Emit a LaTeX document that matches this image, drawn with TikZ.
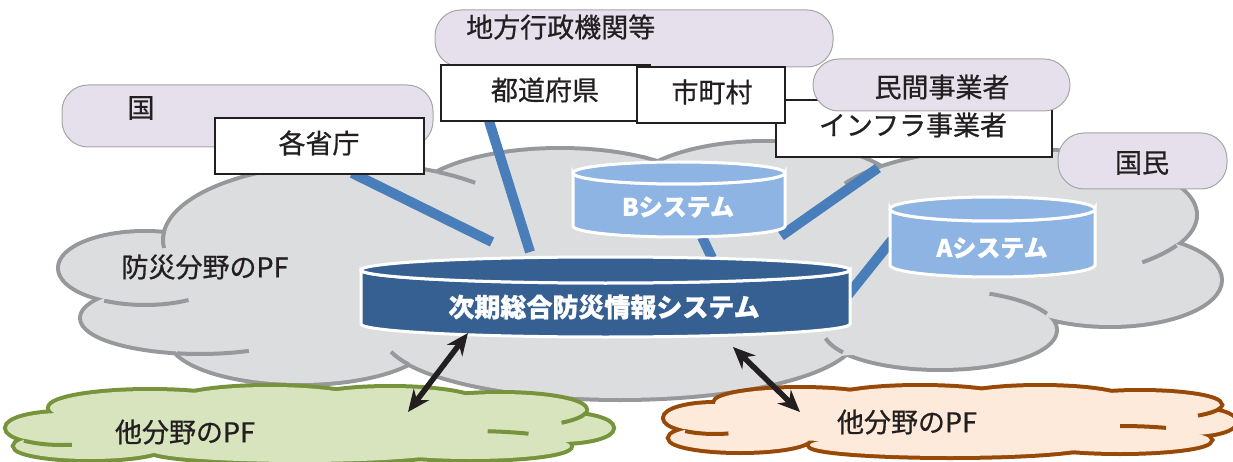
\documentclass[tikz,border=0pt]{standalone}
\usepackage{fontspec}
\newfontfamily\jp{Noto Sans CJK JP}[RawFeature={embolden=0.7}]
\newfontfamily\jpb{Noto Sans CJK JP}[RawFeature={embolden=0.9}]
\usetikzlibrary{arrows.meta,calc}
\definecolor{lav}{HTML}{E6E0EC}
\definecolor{lavline}{HTML}{A6A6A6}
\definecolor{cloudfill}{HTML}{DCDDDF}
\definecolor{cloudline}{HTML}{97989B}
\definecolor{dblue}{HTML}{366092}
\definecolor{lblue}{HTML}{8EB4E3}
\definecolor{cblue}{HTML}{4A7EBB}
\definecolor{gfill}{HTML}{D7E4BD}
\definecolor{gline}{HTML}{77933C}
\definecolor{ofill}{HTML}{FDEADA}
\definecolor{oline}{HTML}{984807}
\definecolor{ink}{HTML}{231F20}
\newcommand\cloudunion[3]{%
  \foreach \a/\b/\c/\d in {#3} \draw[#1, line width=8] (\a,\b) ellipse[x radius=\c, y radius=\d];
  \foreach \a/\b/\c/\d in {#3} \fill[#2] (\a,\b) ellipse[x radius=\c, y radius=\d];
}
\newcommand\tailarc[7]{% colour, cx, cy, rx, ry, t1, t2
  \pgfmathsetmacro\tlRX{#4+2}\pgfmathsetmacro\tlRY{#5+2}%
  \pgfmathsetmacro\tlSX{#2+\tlRX*cos(#6)}\pgfmathsetmacro\tlSY{#3+\tlRY*sin(#6)}%
  \draw[#1, line width=4] (\tlSX,\tlSY) arc[start angle=#6, end angle=#7, x radius=\tlRX, y radius=\tlRY];
}
\newcommand\cylbody[6]{% cx, ytop, ybot, rx, ry, fill
  \path[fill=#6, draw=white, line width=3] (#1-#4,#2) -- (#1-#4,#3)
     arc[start angle=180, end angle=0, x radius=#4, y radius=#5] -- (#1+#4,#2)
     arc[start angle=0, end angle=180, x radius=#4, y radius=#5] -- cycle;
  \path[fill=#6, draw=white, line width=3] (#1,#2) ellipse[x radius=#4, y radius=#5];
}
\begin{document}
\begin{tikzpicture}[x=1pt,y=-1pt,
  txt/.style={font=\jp\fontsize{27}{31}\selectfont, text=ink, inner sep=0},
  boldtxt/.style={font=\jpb\bfseries\fontsize{26}{30}\selectfont, text=white, inner sep=0},
  lavbox/.style={draw=lavline, line width=1, fill=lav, rounded corners=26, inner sep=0},
  whitebox/.style={draw=ink, line width=1.8, fill=white, inner sep=0},
  link/.style={cblue, line width=10},
  biarrow/.style={ink, line width=5.5, {Stealth[length=22,width=19]}-{Stealth[length=22,width=19]}}
]
\useasboundingbox (0,0) rectangle (1233,462);

% ---- main grey cloud ----
\cloudunion{cloudline}{cloudfill}{145/268/85/35, 200/318/118/34, 300/338/130/45, 620/335/235/63,
  940/330/115/38, 1110/280/110/45, 1010/215/185/65, 765/200/140/57, 560/205/150/55, 350/240/185/75}
\fill[cloudfill] (640,270) ellipse[x radius=470, y radius=95];
\tailarc{cloudline}{145}{268}{85}{35}{118}{60}
\tailarc{cloudline}{350}{240}{185}{75}{186}{174}
\tailarc{cloudline}{350}{240}{185}{75}{298}{312}
\tailarc{cloudline}{200}{318}{118}{34}{101}{66}
\tailarc{cloudline}{620}{335}{235}{63}{153}{165}
\tailarc{cloudline}{940}{330}{115}{38}{146}{168}
\tailarc{cloudline}{940}{330}{115}{38}{336}{295}
\tailarc{cloudline}{1010}{215}{185}{65}{27}{45}
\tailarc{cloudline}{1010}{215}{185}{65}{226}{208}
\node[txt] (bosai) at (205,267) {防災分野のPF};

% ---- green cloud ----
\cloudunion{gline}{gfill}{62/428/55/15, 90/446/75/13, 150/408/100/17, 270/402/95/15, 390/404/90/16,
  500/410/85/16, 560/428/52/14, 470/446/100/13, 300/450/150/12}
\fill[gfill] (310,430) ellipse[x radius=290, y radius=25];
\tailarc{gline}{62}{428}{55}{15}{132}{80}
\tailarc{gline}{470}{446}{100}{13}{280}{305}
\tailarc{gline}{500}{410}{85}{16}{45}{10}
\node[txt] (pfL) at (185,432) {他分野のPF};

% ---- orange cloud ----
\cloudunion{oline}{ofill}{715/418/50/14, 740/438/70/13, 800/403/85/14, 920/400/90/13, 1040/400/85/13,
  1140/405/80/13, 1190/422/45/13, 1120/440/90/12, 950/445/140/11}
\fill[ofill] (950,422) ellipse[x radius=260, y radius=22];
\tailarc{oline}{715}{418}{50}{14}{125}{75}
\tailarc{oline}{1120}{440}{90}{12}{270}{300}
\tailarc{oline}{1140}{405}{80}{13}{45}{10}
\node[txt] (pfR) at (907,422) {他分野のPF};

% ---- links ----
\coordinate (l1a) at (352,173); \coordinate (l1b) at (492,242);
\coordinate (l2a) at (489,121); \coordinate (l2b) at (530,252);
\coordinate (l3a) at (702,237); \coordinate (l3b) at (712,258);
\coordinate (l4a) at (878,168); \coordinate (l4b) at (781,236);
\coordinate (l5a) at (892,240); \coordinate (l5b) at (848,295);
\draw[link] (l1a) -- (l1b);
\draw[link] (l2a) -- (l2b);
\draw[link] (l3a) -- (l3b);
\draw[link] (l4a) -- (l4b);
\draw[link] (l5a) -- (l5b);

% ---- cylinders ----
\cylbody{605.5}{270}{324}{244.5}{13}{dblue}
\node[boldtxt] (main) at (604,307) {次期総合防災情報システム};
\cylbody{679}{173}{226}{106}{11}{lblue}
\node[boldtxt, font=\jpb\bfseries\fontsize{24}{28}\selectfont] (bsys) at (678,207) {Bシステム};
\cylbody{992.5}{209}{265}{102.5}{12}{lblue}
\node[boldtxt, font=\jpb\bfseries\fontsize{24}{28}\selectfont] (asys) at (992,248) {Aシステム};

% ---- arrows ----
\coordinate (a1a) at (468,333); \coordinate (a1b) at (408,412);
\coordinate (a2a) at (733,347); \coordinate (a2b) at (800,412);
\draw[biarrow] (a1a) -- (a1b);
\draw[biarrow] (a2a) -- (a2b);

% ---- boxes ----
\node[lavbox, minimum width=371, minimum height=62] (kuni) at (247.5,116) {};
\node[txt] (kuniT) at (141,108) {国};
\node[whitebox, minimum width=209, minimum height=56] (shocho) at (319.5,146) {};
\node[txt] (shochoT) at (319,143) {各省庁};
\node[lavbox, minimum width=398, minimum height=57] (chiho) at (634,38.5) {};
\node[txt, anchor=west] (chihoT) at (466,27) {地方行政機関等};
\node[whitebox, minimum width=209, minimum height=56] (todo) at (545.5,93) {};
\node[txt] (todoT) at (545,90) {都道府県};
\node[whitebox, minimum width=276, minimum height=57] (infra) at (914,128.5) {};
\node[txt] (infraT) at (913,125) {インフラ事業者};
\node[whitebox, minimum width=148, minimum height=56] (shi) at (711,95) {};
\node[txt] (shiT) at (712,92) {市町村};
\node[lavbox, minimum width=257, minimum height=52] (minkan) at (941.5,85) {};
\node[txt] (minkanT) at (942,87) {民間事業者};
\node[lavbox, minimum width=169, minimum height=56] (kokumin) at (1142.5,161) {};
\node[txt] (kokuminT) at (1142,163) {国民};
\end{tikzpicture}
\end{document}
